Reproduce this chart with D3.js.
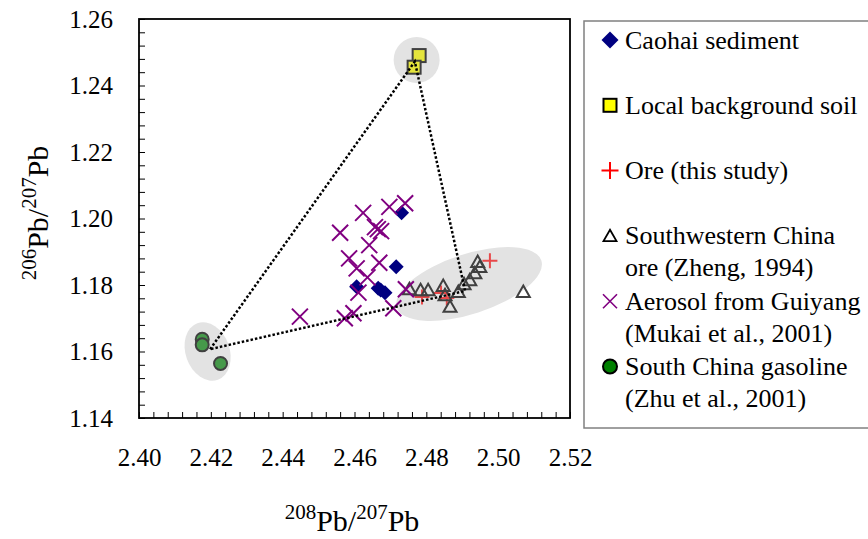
<!DOCTYPE html>
<html>
<head>
<meta charset="utf-8">
<script src="https://cdn.jsdelivr.net/npm/d3@7"></script>
<style>
  body { margin: 0; background: #fff; }
  svg { display: block; font-family: 'Liberation Serif', 'Times New Roman', serif; }
</style>
</head>
<body>
<svg width="868" height="539"></svg>
<script>
WIDTH = 868;
HEIGHT = 539;

// axis ticks
const xTicks = [2.40, 2.42, 2.44, 2.46, 2.48, 2.50, 2.52];
const yTicks = [1.14, 1.16, 1.18, 1.20, 1.22, 1.24, 1.26];

// series, [208Pb/207Pb, 206Pb/207Pb]
const caohaiSediment = [
  [2.4731, 1.2017], [2.4716, 1.1855], [2.4606, 1.1795],
  [2.4666, 1.1790], [2.4673, 1.1785], [2.4685, 1.1777],
];
const backgroundSoil = [[2.4780, 1.2490], [2.4766, 1.2455]];
const oreThisStudy = [
  [2.4788, 1.1764], [2.4841, 1.1776], [2.4857, 1.1761], [2.4977, 1.1873],
];
const swChinaOre = [
  [2.4753, 1.1788], [2.4784, 1.1785], [2.4805, 1.1785], [2.4847, 1.1798],
  [2.4852, 1.1770], [2.4866, 1.1735], [2.4889, 1.1780], [2.4905, 1.1803],
  [2.4921, 1.1815], [2.4935, 1.1836], [2.4949, 1.1855], [2.4943, 1.1870],
  [2.5070, 1.1780],
];
const aerosolGuiyang = [
  [2.4741, 1.2046], [2.4697, 1.2035], [2.4624, 1.2017], [2.4560, 1.1957],
  [2.4657, 1.1974], [2.4665, 1.1968], [2.4674, 1.1962], [2.4641, 1.1920],
  [2.4585, 1.1880], [2.4669, 1.1867], [2.4606, 1.1850], [2.4636, 1.1823],
  [2.4611, 1.1777], [2.4743, 1.1787], [2.4708, 1.1730], [2.4597, 1.1715],
  [2.4573, 1.1700], [2.4448, 1.1705],
];
const gasoline = [[2.4176, 1.1637], [2.4176, 1.1620], [2.4227, 1.1564]];

// end members joined by the dotted mixing triangle
const mixingTriangle = [[2.4198, 1.1607], [2.4768, 1.2472], [2.4908, 1.1782]];
// centres of the grey group ellipses
const groupCentres = [[2.4191, 1.1600], [2.4773, 1.2477], [2.4919, 1.1803]];

const legendLabels = [
  ['Caohai sediment'],
  ['Local background soil'],
  ['Ore (this study)'],
  ['Southwestern China', 'ore (Zheng, 1994)'],
  ['Aerosol from Guiyang', '(Mukai et al., 2001)'],
  ['South China gasoline', '(Zhu et al., 2001)'],
];

const ellipseShapes = [
  {rx: 22, ry: 30, rot: -20},
  {rx: 23, ry: 23, rot: 0},
  {rx: 76, ry: 30, rot: -18},
];

function marker(g, type, opt) {
  const s = opt.size;
  const h = s / 2;
  if (type === 'diamond') {
    g.append('path')
      .attr('d', `M0,${-h}L${h},0L0,${h}L${-h},0Z`)
      .attr('fill', opt.fill);
  } else if (type === 'square') {
    g.append('rect')
      .attr('x', -h).attr('y', -h).attr('width', s).attr('height', s)
      .attr('fill', opt.fill).attr('stroke', opt.stroke).attr('stroke-width', opt.sw);
  } else if (type === 'plus') {
    g.append('path')
      .attr('d', `M${-h},0H${h}M0,${-h}V${h}`)
      .attr('stroke', opt.stroke).attr('stroke-width', opt.sw).attr('fill', 'none');
  } else if (type === 'triangle') {
    const t = h * 0.95;
    g.append('path')
      .attr('d', `M0,${-t}L${h},${t * 0.85}L${-h},${t * 0.85}Z`)
      .attr('fill', 'none').attr('stroke', opt.stroke).attr('stroke-width', opt.sw);
  } else if (type === 'x') {
    g.append('path')
      .attr('d', `M${-h},${-h}L${h},${h}M${-h},${h}L${h},${-h}`)
      .attr('stroke', opt.stroke).attr('stroke-width', opt.sw).attr('fill', 'none');
  } else if (type === 'circle') {
    g.append('circle').attr('r', h)
      .attr('fill', opt.fill).attr('stroke', opt.stroke).attr('stroke-width', opt.sw);
  }
}

const seriesDefs = [
  {data: caohaiSediment, type: 'diamond',
    plot: {size: 15, fill: '#000080'}, legend: {size: 17, fill: '#000080'}},
  {data: backgroundSoil, type: 'square',
    plot: {size: 13, fill: '#e4e43c', stroke: '#404040', sw: 2},
    legend: {size: 13, fill: '#ffff00', stroke: '#000', sw: 2}},
  {data: oreThisStudy, type: 'plus',
    plot: {size: 15, stroke: '#e8484a', sw: 2}, legend: {size: 17, stroke: '#ff0000', sw: 2}},
  {data: swChinaOre, type: 'triangle',
    plot: {size: 13, stroke: '#404040', sw: 2}, legend: {size: 13, stroke: '#000', sw: 1.8}},
  {data: aerosolGuiyang, type: 'x',
    plot: {size: 16, stroke: '#800080', sw: 2}, legend: {size: 14, stroke: '#800080', sw: 1.6}},
  {data: gasoline, type: 'circle',
    plot: {size: 13, fill: '#46994a', stroke: '#404040', sw: 2},
    legend: {size: 14, fill: '#008000', stroke: '#000', sw: 2}},
];

function drawChart() {
  const svg = d3.select('svg');
  const margin = {top: 19, right: 298, bottom: 121, left: 139};
  const width = WIDTH - margin.left - margin.right;
  const height = HEIGHT - margin.top - margin.bottom;

  const x = d3.scaleLinear().domain([2.40, 2.52]).range([0, width]);
  const y = d3.scaleLinear().domain([1.14, 1.26]).range([height, 0]);

  const g = svg.append('g')
    .attr('transform', `translate(${margin.left}, ${margin.top})`);

  // grey group ellipses
  g.selectAll('.group')
    .data(groupCentres)
    .join('ellipse')
    .attr('class', 'group')
    .attr('transform', (d, i) =>
      `translate(${x(d[0])},${y(d[1])}) rotate(${ellipseShapes[i].rot})`)
    .attr('rx', (d, i) => ellipseShapes[i].rx)
    .attr('ry', (d, i) => ellipseShapes[i].ry)
    .attr('fill', '#e3e3e3');

  // points
  seriesDefs.forEach((s) => {
    s.data.forEach((p) => {
      const m = g.append('g').attr('transform', `translate(${x(p[0])},${y(p[1])})`);
      marker(m, s.type, s.plot);
    });
  });

  // dotted mixing triangle
  g.append('path')
    .datum(mixingTriangle)
    .attr('d', d3.line().x((d) => x(d[0])).y((d) => y(d[1])).curve(d3.curveLinearClosed))
    .attr('fill', 'none')
    .attr('stroke', '#000')
    .attr('stroke-width', 2.5)
    .attr('stroke-dasharray', '2.5,2');

  // minor ticks every 0.004
  const xMinor = d3.range(0, 31).map((i) => 2.40 + i * 0.004);
  const yMinor = d3.range(0, 31).map((i) => 1.14 + i * 0.004);

  const font = 25;
  const xAxis = g.append('g')
    .attr('transform', `translate(0, ${height})`)
    .call(d3.axisBottom(x).tickValues(xMinor).tickSize(-6).tickFormat(''));
  const yAxis = g.append('g')
    .call(d3.axisLeft(y).tickValues(yMinor).tickSize(-6).tickFormat(''));
  [xAxis, yAxis].forEach((a) => {
    a.select('.domain').remove();
    a.selectAll('line').attr('stroke', '#000').attr('stroke-width', 1);
  });

  g.append('g')
    .attr('transform', `translate(0, ${height})`)
    .call(d3.axisBottom(x).tickValues(xTicks).tickSize(0).tickPadding(30)
      .tickFormat(d3.format('.2f')))
    .call((a) => a.select('.domain').remove())
    .selectAll('text')
    .attr('font-size', font).attr('font-family', 'Liberation Serif').attr('fill', '#000');

  g.append('g')
    .call(d3.axisLeft(y).tickValues(yTicks).tickSize(0).tickPadding(26)
      .tickFormat(d3.format('.2f')))
    .call((a) => a.select('.domain').remove())
    .selectAll('text')
    .attr('font-size', font).attr('font-family', 'Liberation Serif').attr('fill', '#000');

  // plot frame
  g.append('rect')
    .attr('width', width).attr('height', height)
    .attr('fill', 'none').attr('stroke', '#000').attr('stroke-width', 1.8);

  // axis titles
  function isotopeLabel(sel, a, b) {
    sel.append('tspan').attr('font-size', 21).attr('dy', -12).text(a);
    sel.append('tspan').attr('font-size', 30).attr('dy', 12).text('Pb/');
    sel.append('tspan').attr('font-size', 21).attr('dy', -12).text(b);
    sel.append('tspan').attr('font-size', 30).attr('dy', 12).text('Pb');
  }
  const xt = svg.append('text')
    .attr('x', 352).attr('y', 531)
    .attr('text-anchor', 'middle').attr('fill', '#000');
  isotopeLabel(xt, '208', '207');

  const yt = svg.append('text')
    .attr('transform', 'translate(48, 213) rotate(-90)')
    .attr('text-anchor', 'middle').attr('fill', '#000');
  isotopeLabel(yt, '206', '207');

  // legend
  const lg = svg.append('g');
  lg.append('rect')
    .attr('x', 584).attr('y', 21).attr('width', 300).attr('height', 407)
    .attr('fill', '#fff').attr('stroke', '#808080').attr('stroke-width', 1.5);

  legendLabels.forEach((lines, i) => {
    const cy = 40 + i * 65.3;
    const m = lg.append('g').attr('transform', `translate(610, ${cy})`);
    marker(m, seriesDefs[i].type, seriesDefs[i].legend);
    lines.forEach((t, j) => {
      lg.append('text')
        .attr('x', 625).attr('y', cy + j * 32)
        .attr('dy', '0.33em')
        .attr('font-size', 26)
        .attr('fill', '#000')
        .text(t);
    });
  });
}

drawChart();
</script>
</body>
</html>
